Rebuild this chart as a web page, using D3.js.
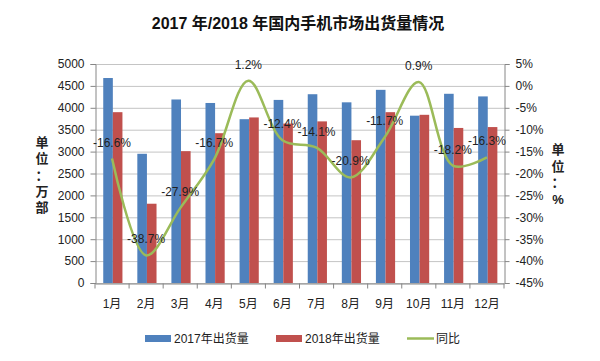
<!DOCTYPE html>
<html><head><meta charset="utf-8">
<script src="https://cdn.jsdelivr.net/npm/d3@7"></script>
<style>
body{margin:0;background:#fff;}
text{font-family:"Liberation Sans","Noto Sans CJK SC",sans-serif;}
</style></head>
<body><svg id="c" width="600" height="361"></svg>
<script>
const months = ["1月","2月","3月","4月","5月","6月","7月","8月","9月","10月","11月","12月"];
const ship2017 = [4680,2950,4190,4110,3740,4180,4310,4125,4410,3820,4320,4260];
const ship2018 = [3900,1810,3010,3420,3780,3640,3690,3260,3900,3840,3540,3560];
const yoy = [-16.6,-38.7,-27.9,-16.7,1.2,-12.4,-14.1,-20.9,-11.7,0.9,-18.2,-16.3];
const leftTicks = [0,500,1000,1500,2000,2500,3000,3500,4000,4500,5000];
const rightTicks = [5,0,-5,-10,-15,-20,-25,-30,-35,-40,-45];
const seriesNames = ["2017年出货量","2018年出货量","同比"];
const colors = ["#4F81BD","#C0504D","#9BBB59"];

const svg = d3.select("#c");
const L=95, R=504, T=64, B=283;
const x = d3.scaleBand().domain(months).range([L,R]);
const yL = d3.scaleLinear().domain([0,5000]).range([B,T]);
const yR = d3.scaleLinear().domain([-45,5]).range([B,T]);

// title
svg.append("text").attr("x",298).attr("y",29).attr("text-anchor","middle")
  .attr("font-size",16).attr("font-weight","bold").attr("fill","#111")
  .text("2017 年/2018 年国内手机市场出货量情况");

// gridlines
svg.append("g").selectAll("line").data(leftTicks).join("line")
  .attr("x1",L).attr("x2",R).attr("y1",d=>yL(d)+0.5).attr("y2",d=>yL(d)+0.5)
  .attr("stroke","#c4c4c4").attr("stroke-width",1);

// left axis
const gL = svg.append("g").attr("transform",`translate(${L+0.5},0)`)
  .call(d3.axisLeft(yL).tickValues(leftTicks).tickSize(5).tickPadding(6).tickFormat(d3.format("d")));
gL.selectAll("text").attr("font-size",12).attr("fill","#222");
gL.selectAll("line,path").attr("stroke","#868686");

// right axis
const gR = svg.append("g").attr("transform",`translate(${R+0.5},0)`)
  .call(d3.axisRight(yR).tickValues(rightTicks).tickSize(5).tickPadding(6).tickFormat(d=>d+"%"));
gR.selectAll("text").attr("font-size",12).attr("fill","#222");
gR.selectAll("line,path").attr("stroke","#868686");

// bottom axis
const gB = svg.append("g").attr("transform",`translate(0,${B+0.5})`)
  .call(d3.axisBottom(x).tickSize(0).tickPadding(16));
gB.selectAll("text").attr("font-size",12).attr("fill","#222");
gB.select("path").attr("stroke","#868686");
gB.selectAll(".sep").data(d3.range(13)).join("line").attr("class","sep")
  .attr("x1",i=>L+i*x.bandwidth()).attr("x2",i=>L+i*x.bandwidth())
  .attr("y1",0).attr("y2",5).attr("stroke","#868686");

// bars
const bw = 9.6;
const off = (x.bandwidth()-2*bw)/2 + 0.8;
svg.append("g").selectAll("rect").data(ship2017).join("rect")
  .attr("x",(d,i)=>x(months[i])+off).attr("width",bw)
  .attr("y",d=>yL(d)).attr("height",d=>B-yL(d)).attr("fill",colors[0]);
svg.append("g").selectAll("rect").data(ship2018).join("rect")
  .attr("x",(d,i)=>x(months[i])+off+bw).attr("width",bw)
  .attr("y",d=>yL(d)).attr("height",d=>B-yL(d)).attr("fill",colors[1]);

// line
const line = d3.line().x((d,i)=>x(months[i])+x.bandwidth()/2).y(d=>yR(d)).curve(d3.curveCatmullRom.alpha(0.5));
svg.append("path").datum(yoy).attr("d",line).attr("fill","none")
  .attr("stroke",colors[2]).attr("stroke-width",2.5);

// labels
svg.append("g").selectAll("text").data(yoy).join("text")
  .attr("x",(d,i)=>x(months[i])+x.bandwidth()/2).attr("y",d=>yR(d)-12)
  .attr("text-anchor","middle").attr("font-size",12).attr("fill","#222")
  .text(d=>d.toFixed(1)+"%");

// axis titles
const lt = ["单","位","：","万","部"];
svg.append("g").selectAll("text").data(lt).join("text")
  .attr("x",42).attr("y",(d,i)=>147+i*16.3).attr("text-anchor","middle")
  .attr("font-size",13).attr("font-weight","bold").attr("fill","#222").text(d=>d);
const rt = ["单","位","：","%"];
svg.append("g").selectAll("text").data(rt).join("text")
  .attr("x",558).attr("y",(d,i)=>154+i*16.5).attr("text-anchor","middle")
  .attr("font-size",13).attr("font-weight","bold").attr("fill","#222").text(d=>d);

// legend
const lg = svg.append("g");
const lx = [145,276,407];
lg.append("rect").attr("x",lx[0]).attr("y",335).attr("width",26).attr("height",7).attr("fill",colors[0]);
lg.append("rect").attr("x",lx[1]).attr("y",335).attr("width",26).attr("height",7).attr("fill",colors[1]);
lg.append("line").attr("x1",lx[2]).attr("x2",lx[2]+27).attr("y1",338.5).attr("y2",338.5).attr("stroke",colors[2]).attr("stroke-width",2.5);
lg.selectAll("text").data(seriesNames).join("text")
  .attr("x",(d,i)=>lx[i]+29).attr("y",343).attr("font-size",12).attr("fill","#222").text(d=>d);
</script></body></html>
